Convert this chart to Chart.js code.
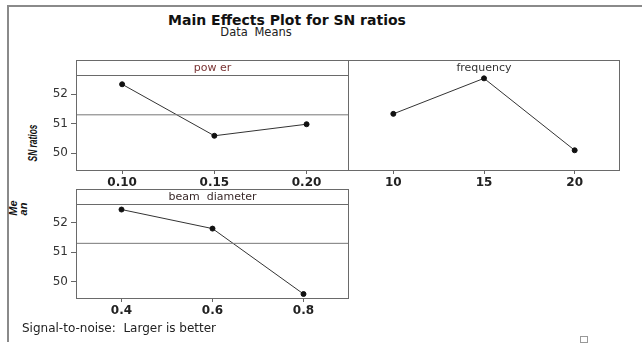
<!DOCTYPE html>
<html>
<head>
    <title>Main Effects Plot for SN ratios</title>
    <script src="https://cdn.jsdelivr.net/npm/chart.js"></script>
    <style>
        body { margin: 0; background: #fff; }
        #page { position: relative; width: 642px; height: 345px; overflow: hidden; font-family: 'DejaVu Sans', sans-serif; }
        .box { position: absolute; }
        .txt { position: absolute; white-space: nowrap; }
        .rot { position: absolute; white-space: nowrap; font-family: 'Liberation Sans', sans-serif; font-weight: bold; font-style: italic; color: #111; }
    </style>
</head>
<body>
<div id="page">
    <div class="box" style="left:7px;top:5px;width:640px;height:2px;background:#8a8a8a"></div>
    <div class="box" style="left:7px;top:5px;width:2px;height:337px;background:#8a8a8a"></div>

    <div class="txt" style="left:287px;top:12px;transform:translateX(-50%);font-weight:bold;font-size:14px;color:#111">Main Effects Plot for SN ratios</div>
    <div class="txt" style="left:256px;top:25px;transform:translateX(-50%);font-size:11.5px;color:#222;word-spacing:3px">Data Means</div>

    <div class="rot" style="left:33px;top:143px;font-size:12px;transform:translate(-50%,-50%) rotate(-90deg) scaleX(0.7)">SN ratios</div>
    <div class="rot" style="left:13px;top:208px;font-size:11px;transform:translate(-50%,-50%) rotate(-90deg)">Me</div>
    <div class="rot" style="left:23px;top:209px;font-size:11px;transform:translate(-50%,-50%) rotate(-90deg)">an</div>

    <div class="box" style="left:20px;top:59px"><canvas id="power" width="330" height="137"></canvas></div>
    <div class="box" style="left:347px;top:59px"><canvas id="freq" width="274" height="137"></canvas></div>
    <div class="box" style="left:20px;top:188px"><canvas id="beam" width="330" height="136"></canvas></div>

    <div class="txt" style="left:22px;top:321px;font-size:12px;color:#222">Signal-to-noise:&nbsp; Larger is better</div>
    <div class="box" style="left:580px;top:336px;width:6px;height:5px;border:1px solid #999"></div>
</div>

<script>
    // factor levels, tick text and SN ratio means
    var powerLevels = [0.10, 0.15, 0.20];
    var powerLabels = ['0.10', '0.15', '0.20'];
    var powerSN = [52.33, 50.59, 50.98];

    var freqLevels = [10, 15, 20];
    var freqLabels = ['10', '15', '20'];
    var freqSN = [51.33, 52.53, 50.10];

    var beamLevels = [0.4, 0.6, 0.8];
    var beamLabels = ['0.4', '0.6', '0.8'];
    var beamSN = [52.45, 51.80, 49.57];

    var yTicks = [50, 51, 52];
    var yMin = 49.4, yMax = 53.15;

    var all = powerSN.concat(freqSN, beamSN);
    var grandMean = all.reduce(function (a, b) { return a + b; }, 0) / all.length;

    Chart.defaults.font.family = 'DejaVu Sans';

    var framePlugin = {
        id: 'panelFrame',
        afterDraw: function (chart, args, opts) {
            var a = chart.chartArea, ctx = chart.ctx;
            ctx.save();
            ctx.strokeStyle = '#6a6a6a';
            ctx.lineWidth = 1;
            ctx.strokeRect(a.left + 0.5, a.top + 0.5, a.right - a.left - 1, a.bottom - a.top - 1);
            if (opts.strip) {
                ctx.beginPath();
                ctx.moveTo(a.left, a.top + 15.5);
                ctx.lineTo(a.right, a.top + 15.5);
                ctx.stroke();
            }
            ctx.fillStyle = opts.color || '#222';
            ctx.font = '11px "DejaVu Sans"';
            ctx.textAlign = 'center';
            ctx.textBaseline = 'middle';
            ctx.fillText(opts.title, (a.left + a.right) / 2, a.top + 8);
            ctx.restore();
        }
    };

    function makePanel(id, levels, labels, values, xMin, xMax, cfg) {
        var pts = levels.map(function (v, i) { return { x: v, y: values[i] }; });
        var datasets = [{
            data: pts,
            borderColor: '#333',
            borderWidth: 1,
            pointRadius: 2.5,
            pointBackgroundColor: '#111',
            pointBorderColor: '#111',
            tension: 0
        }];
        if (cfg.mean) {
            datasets.unshift({
                data: [{ x: xMin, y: grandMean }, { x: xMax, y: grandMean }],
                borderColor: '#777',
                borderWidth: 1,
                pointRadius: 0
            });
        }
        return new Chart(document.getElementById(id), {
            type: 'line',
            data: { datasets: datasets },
            options: {
                responsive: false,
                animation: false,
                devicePixelRatio: 1,
                layout: { autoPadding: false, padding: { top: 1, right: 1, left: cfg.showY ? 0 : 1, bottom: 0 } },
                plugins: {
                    legend: { display: false },
                    tooltip: { enabled: false },
                    panelFrame: { title: cfg.title, strip: cfg.strip, color: cfg.color }
                },
                scales: {
                    x: {
                        type: 'linear',
                        min: xMin,
                        max: xMax,
                        afterBuildTicks: function (s) { s.ticks = levels.map(function (v) { return { value: v }; }); },
                        afterFit: function (s) { s.height = 25; s.paddingLeft = 0; s.paddingRight = 0; },
                        ticks: {
                            callback: function (v, i) { return labels[i]; },
                            font: { size: 12, weight: 'bold' },
                            color: '#222',
                            padding: 2,
                            maxRotation: 0,
                            autoSkip: false
                        },
                        grid: { drawOnChartArea: false, tickLength: 3, color: '#666' },
                        border: { display: false }
                    },
                    y: {
                        min: yMin,
                        max: yMax,
                        display: cfg.showY,
                        afterBuildTicks: function (s) { s.ticks = yTicks.map(function (v) { return { value: v }; }); },
                        afterFit: function (s) { s.width = cfg.showY ? 56 : 0; s.paddingTop = 0; s.paddingBottom = 0; },
                        ticks: { font: { size: 12 }, color: '#333', padding: 3 },
                        grid: { drawOnChartArea: false, tickLength: 5, color: '#666' },
                        border: { display: false }
                    }
                }
            },
            plugins: [framePlugin]
        });
    }

    makePanel('power', powerLevels, powerLabels, powerSN, 0.075, 0.223,
        { title: 'pow er', strip: true, mean: true, showY: true, color: '#7a3434' });
    makePanel('freq', freqLevels, freqLabels, freqSN, 7.5, 22.5,
        { title: 'frequency', strip: false, mean: false, showY: false, color: '#333' });
    makePanel('beam', beamLevels, beamLabels, beamSN, 0.3, 0.9,
        { title: 'beam  diameter', strip: true, mean: true, showY: true, color: '#3a2a2a' });
</script>
</body>
</html>
